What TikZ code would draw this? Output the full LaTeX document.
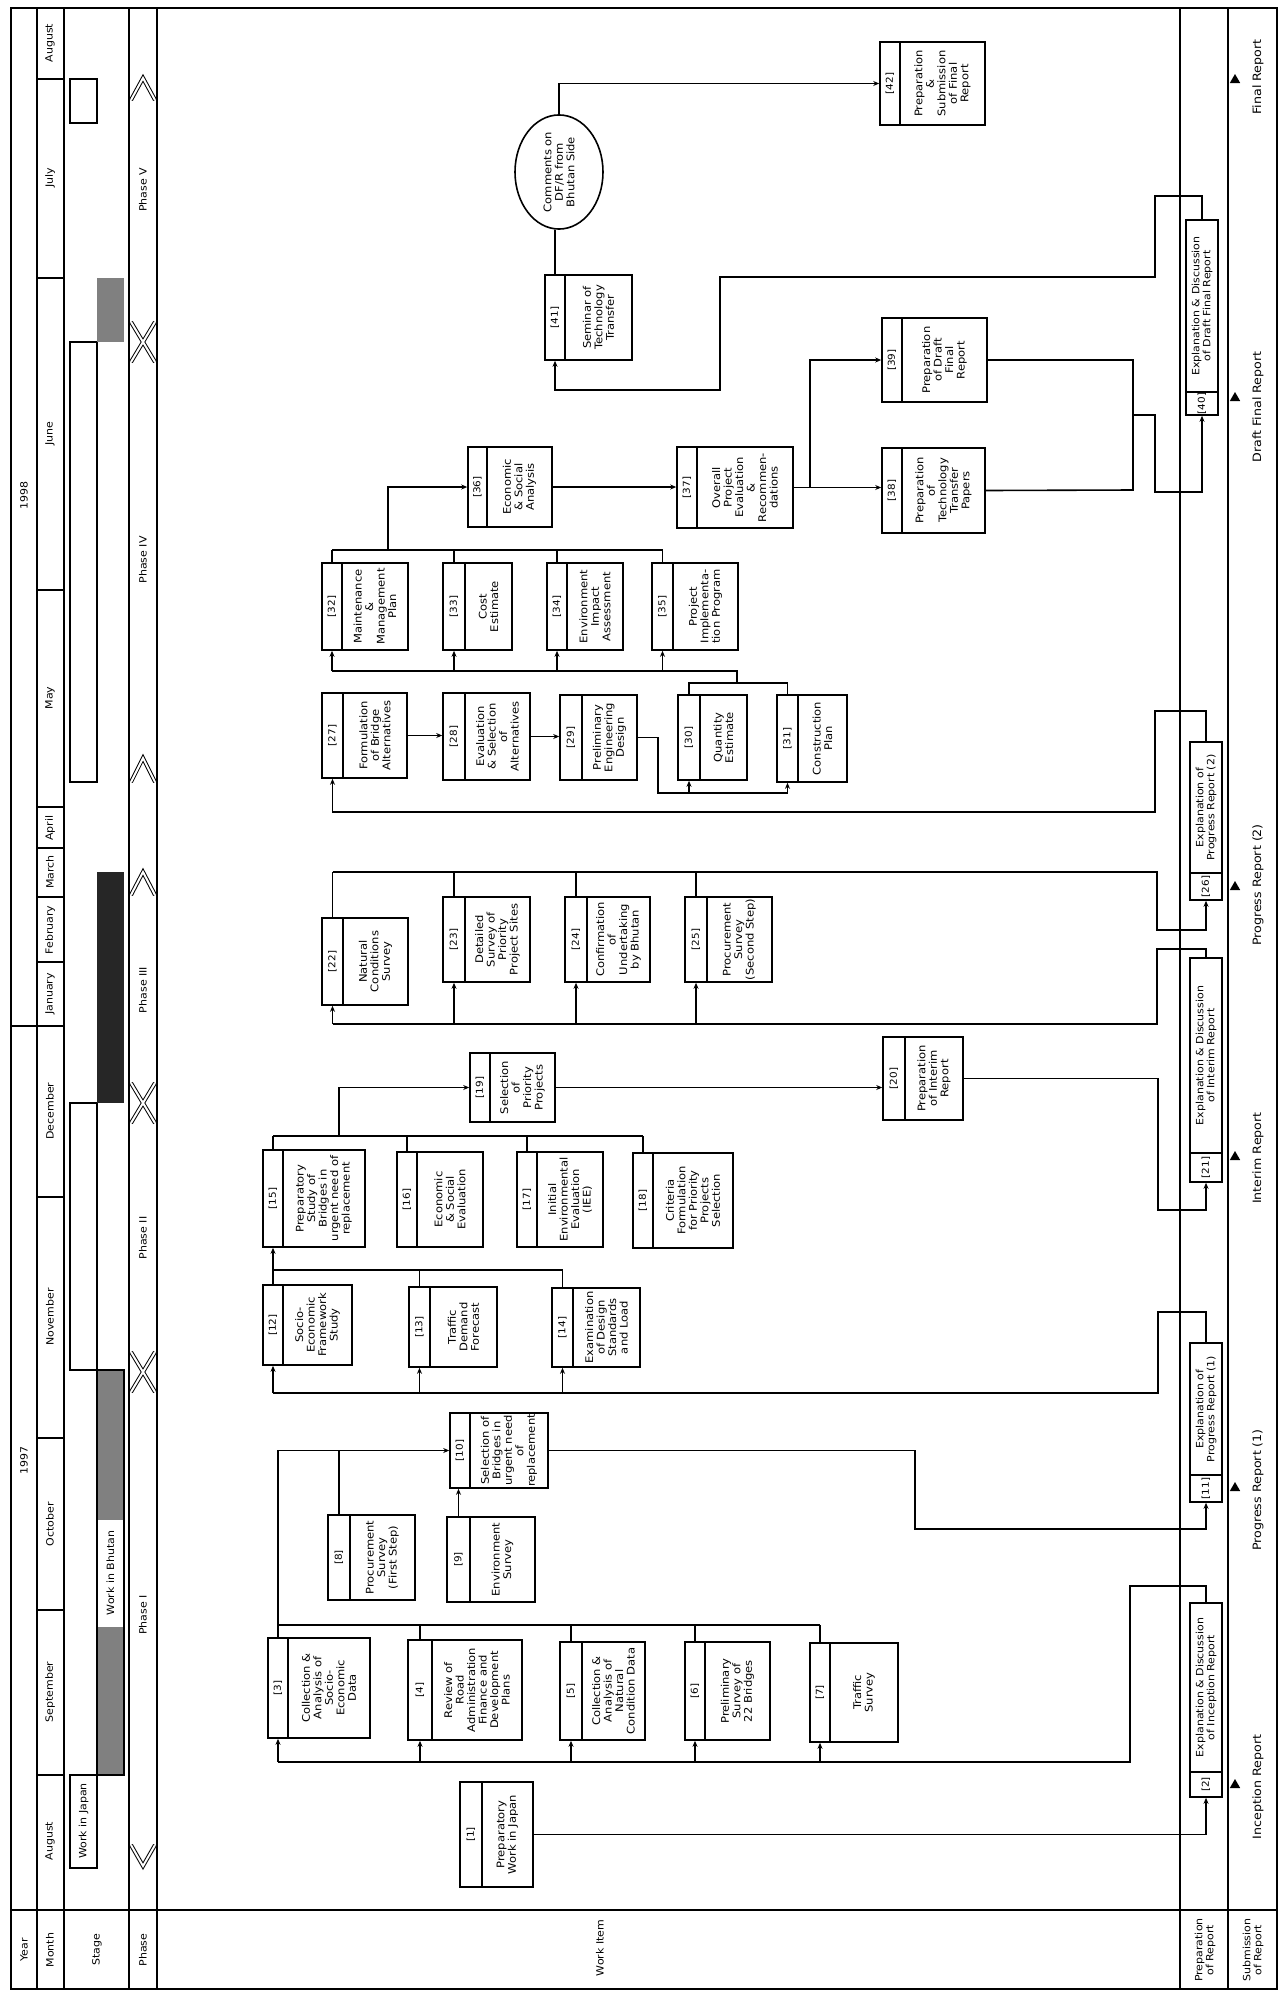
\documentclass[tikz,border=0pt]{standalone}
\usepackage{fontspec}
\setmainfont{DejaVu Sans}[FakeStretch=1.1]
\usetikzlibrary{arrows.meta,positioning,shapes.geometric}
\tikzset{
  numbox/.style    = {draw, line width=1.6pt, rotate=90, inner sep=0pt,
                      font=\fontsize{9.5}{10}\selectfont},
  itembox/.style   = {draw, line width=1.6pt, rotate=90, inner sep=1pt,
                      align=center, font=\fontsize{10.5}{11.5}\selectfont},
  cmell/.style     = {draw, ellipse, line width=1.6pt, rotate=90, inner sep=0pt,
                      align=center, font=\fontsize{10.5}{11.5}\selectfont},
  lbl/.style       = {rotate=90, inner sep=0pt, align=center,
                      font=\fontsize{10}{11}\selectfont},
  replbl/.style    = {rotate=90, inner sep=0pt, font=\fontsize{11.5}{12}\selectfont},
  repmark/.style   = {fill, regular polygon, regular polygon sides=3,
                      minimum size=12pt, inner sep=0pt},
  con/.style       = {line width=1.6pt},
  arr/.style       = {con, -{Stealth[length=6pt,width=5pt]}},
  chev/.style      = {double, double distance=2pt, line width=1pt},
  thickrule/.style = {line width=2.6pt},
  thinrule/.style  = {line width=1.2pt},
  stip/.style      = {fill=black!50},
}

\begin{document}
\begin{tikzpicture}[x=1pt,y=-1pt]
\useasboundingbox (0,0) rectangle (1279,1995);

% frame and columns
\draw[line width=2pt] (11,8) rectangle (1277,1989);
\draw[thinrule] (37,8) -- (37,1989);
\foreach \x in {64,129,157,1180,1228} \draw[thickrule] (\x,8) -- (\x,1989);
\draw[line width=1.5pt] (11,1910) -- (1277,1910);
\draw[thinrule] (11,1026) -- (37,1026);
\foreach \y in {1775,1610,1438,1197,1026,962,897,848,807,590,278,79}
  \draw[thinrule] (37,\y) -- (64,\y);

% heading texts
\node[lbl] (hy) at (24,1950) {Year};
\node[lbl] (hm) at (50,1950) {Month};
\node[lbl] (hs) at (97,1950) {Stage};
\node[lbl] (hp) at (143,1950) {Phase};
\node[lbl] (hw) at (600,1948) {Work Item};
\node[lbl] (hr) at (1205,1950) {Preparation\\of Report};
\node[lbl] (hd) at (1253,1950) {Submission\\of Report};
\node[lbl] (y97) at (24,1460) {1997};
\node[lbl] (y98) at (24,495) {1998};
\foreach \y/\m [count=\i] in {1841/August,1692/September,1524/October,
    1317/November,1111/December,994/January,930/February,872/March,
    828/April,698/May,434/June,178/July,43/August}
  \node[lbl] (mo\i) at (50,\y) {\m};

% stage
\draw[thinrule] (70,1775) rectangle (97,1868);
\node[lbl] (wj) at (83.5,1821) {Work in Japan};
\fill[stip] (97,1627) rectangle (124,1775);
\fill[stip] (97,1370) rectangle (124,1520);
\draw[thinrule] (97,1370) rectangle (124,1775);
\node[lbl] (wb) at (110.5,1573) {Work in Bhutan};
\draw[thinrule] (70,1103) rectangle (97,1370);
\fill[black!85] (97,872) rectangle (124,1103);
\draw[thinrule] (70,342) rectangle (97,782);
\fill[stip] (97,278) rectangle (124,342);
\draw[thinrule] (70,79) rectangle (97,123);

% phases
\foreach \y in {1372,1103,342}
  \draw[chev] (131,\y-20) -- (155,\y+20) (131,\y+20) -- (155,\y-20);
\draw[chev] (131,1845) -- (143,1866) -- (155,1845);
\draw[chev] (131,895) -- (143,872) -- (155,895);
\draw[chev] (131,782) -- (143,758) -- (155,782);
\draw[chev] (131,100) -- (143,78) -- (155,100);
\foreach \y/\p [count=\i] in {1615/I,1238/II,990/III,560/IV,190/V}
  \node[lbl] (ph\i) at (143,\y) {Phase \p};

% work items
\foreach \id/\xl/\xd/\xr/\yt/\yb/\txt in {
  1/460/482/533/1782/1887/{Preparatory\\Work in Japan},
  3/268/288/370/1638/1738/{Collection \&\\Analysis of\\Socio-\\Economic\\Data},
  4/408/432/522/1640/1740/{Review of\\Road\\Administration\\Finance and\\Development\\Plans},
  5/560/582/645/1642/1740/{Collection \&\\Analysis of\\Natural\\Condition Data},
  6/685/705/770/1642/1740/{Preliminary\\Survey of\\22 Bridges},
  7/810/830/898/1643/1742/{Traffic\\Survey},
  8/328/350/415/1515/1600/{Procurement\\Survey\\(First Step)},
  9/447/470/535/1517/1602/{Environment\\Survey},
  10/450/470/548/1413/1488/{Selection of\\Bridges in\\urgent need\\of\\replacement},
  12/263/283/352/1285/1365/{Socio-\\Economic\\Framework\\Study},
  13/409/430/497/1287/1367/{Traffic\\Demand\\Forecast},
  14/552/573/640/1288/1367/{Examination\\of Design\\Standards\\and Load},
  15/263/283/365/1150/1247/{Preparatory\\Study of\\Bridges in\\urgent need of\\replacement},
  16/397/417/483/1152/1247/{Economic\\\& Social\\Evaluation},
  17/517/537/603/1152/1247/{Initial\\Environmental\\Evaluation\\(IEE)},
  18/633/653/733/1153/1248/{Criteria\\Formulation\\for Priority\\Projects\\Selection},
  19/470/490/555/1053/1122/{Selection\\of\\Priority\\Projects},
  20/883/905/963/1037/1120/{Preparation\\of Interim\\Report},
  22/322/343/408/918/1005/{Natural\\Conditions\\Survey},
  23/443/465/530/897/982/{Detailed\\Survey of\\Priority\\Project Sites},
  24/565/587/650/897/982/{Confirmation\\of\\Undertaking\\by Bhutan},
  25/685/707/772/897/982/{Procurement\\Survey\\(Second Step)},
  27/322/343/407/693/778/{Formulation\\of Bridge\\Alternatives},
  28/443/465/530/693/780/{Evaluation\\\& Selection\\of\\Alternatives},
  29/560/582/637/695/780/{Preliminary\\Engineering\\Design},
  30/678/700/747/695/780/{Quantity\\Estimate},
  31/777/798/847/695/782/{Construction\\Plan},
  32/322/342/408/563/650/{Maintenance\\\&\\Management\\Plan},
  33/443/465/512/563/650/{Cost\\Estimate},
  34/547/567/623/563/650/{Environment\\Impact\\Assessment},
  35/652/673/738/563/650/{Project\\Implementa-\\tion Program},
  36/468/487/552/447/527/{Economic\\\& Social\\Analysis},
  37/677/697/793/447/528/{Overall\\Project\\Evaluation\\\&\\Recommen-\\dations},
  38/882/902/985/448/533/{Preparation\\of\\Technology\\Transfer\\Papers},
  39/882/902/987/318/402/{Preparation\\of Draft\\Final\\Report},
  41/545/565/632/275/360/{Seminar of\\Technology\\Transfer},
  42/880/900/985/42/125/{Preparation\\\&\\Submission\\of Final\\Report}}
{
  \pgfmathsetmacro\boxw{\yb-\yt}
  \pgfmathsetmacro\numh{\xd-\xl}
  \pgfmathsetmacro\txth{\xr-\xd}
  \node[numbox, minimum width=\boxw, minimum height=\numh] (n\id)
    at ({(\xl+\xd)/2},{(\yt+\yb)/2}) {[\id]};
  \node[itembox, minimum width=\boxw, minimum height=\txth] (b\id)
    at ({(\xd+\xr)/2},{(\yt+\yb)/2}) {\txt};
}

% report preparation items (number at the lower end)
\foreach \id/\xl/\xr/\yt/\yn/\yb/\txt in {
  2/1190/1222/1603/1772/1797/{Explanation \& Discussion\\of Inception Report},
  11/1190/1222/1343/1475/1502/{Explanation of\\Progress Report (1)},
  21/1190/1222/958/1153/1182/{Explanation \& Discussion\\of Interim Report},
  26/1190/1222/742/873/900/{Explanation of\\Progress Report (2)},
  40/1186/1218/220/392/415/{Explanation \& Discussion\\of Draft Final Report}}
{
  \pgfmathsetmacro\numw{\yb-\yn}
  \pgfmathsetmacro\txtw{\yn-\yt}
  \pgfmathsetmacro\boxh{\xr-\xl}
  \node[numbox, minimum width=\numw, minimum height=\boxh] (n\id)
    at ({(\xl+\xr)/2},{(\yn+\yb)/2}) {[\id]};
  \node[itembox, minimum width=\txtw, minimum height=\boxh,
        font=\fontsize{10}{11}\selectfont] (b\id)
    at ({(\xl+\xr)/2},{(\yt+\yn)/2}) {\txt};
}

\node[cmell, minimum width=103, minimum height=88] (cm) at (559,172)
  {Comments on\\DF/R from\\Bhutan Side};

% submission of reports
\foreach \y/\ty/\t [count=\i] in {1787/1785/Inception Report,
    1490/1488/Progress Report (1),1158/1157/Interim Report,
    885/887/Progress Report (2),407/398/Draft Final Report,77/80/Final Report}
{
  \node[repmark] (m\i) at (1235,\ty) {};
  \node[replbl] (r\i) at (1258,\y) {\t};
}

% bus levels
\coordinate (aLo) at (0,1762);
\coordinate (aHi) at (0,1625);
\coordinate (bLo) at (0,1393);
\coordinate (bHi) at (0,1270);
\coordinate (cHi) at (0,1136);
\coordinate (dLo) at (0,1024);
\coordinate (dHi) at (0,872);
\coordinate (eLo) at (0,793);
\coordinate (eHi) at (0,683);
\coordinate (fLo) at (0,671);
\coordinate (fHi) at (0,550);

% phase I
\draw[arr] (b1.south) -| (n2.west);
\draw[con] (b2.east) -- ++(0,-16) -| (1130,1762) -- (n3.west |- aLo);
\foreach \k in {3,...,7} \draw[arr] (n\k.west |- aLo) -- (n\k.west);
\draw[con] (n3.east |- aHi) -- (n7.east |- aHi);
\foreach \k in {3,...,7} \draw[con] (n\k.east) -- (n\k.east |- aHi);
\draw[arr] (n3.east |- aHi) |- (n10.north);
\draw[con] (n8.east) -- (n8.east |- n10.north);
\draw[arr] (n9.east) -- (n9.east |- n10.west);
\draw[arr] (b10.south) -| (915,1529) -| (n11.west);

% phase II
\draw[con] (b11.east) -- ++(0,-30) -| (1158,1393) -- (n12.west |- bLo);
\foreach \k in {12,13,14} \draw[arr] (n\k.west |- bLo) -- (n\k.west);
\draw[con] (n12.east |- bHi) -- (n14.east |- bHi);
\foreach \k in {13,14} \draw[con] (n\k.east) -- (n\k.east |- bHi);
\draw[arr] (n12.east) -- (n15.west);
\draw[con] (n15.east |- cHi) -- (n18.east |- cHi);
\foreach \k in {15,...,18} \draw[con] (n\k.east) -- (n\k.east |- cHi);
\draw[arr] (339,1136) |- (n19.north);
\draw[arr] (b19.south) -- (b19.south -| n20.north);
\draw[arr] (b20.south) -| (1158,1210) -| (n21.west);

% phase III
\draw[con] (b21.east) -- ++(0,-8) -| (1157,1024) -- (n22.west |- dLo);
\foreach \k in {22,...,25} \draw[arr] (n\k.west |- dLo) -- (n\k.west);
\draw[arr] (n22.east |- dHi) -- (1157,872) -- (1157,930) -| (n26.west);
\foreach \k in {22,...,25} \draw[con] (n\k.east) -- (n\k.east |- dHi);

% phase IV
\draw[arr] (b26.east) -- ++(0,-30) -| (1155,812) -| (n27.west);
\draw[arr] (b27.south) -- (b27.south -| n28.north);
\draw[arr] (b28.south) -- (b28.south -| n29.north);
\draw[con] (b29.south) -| (658,793) -- (n31.west |- eLo);
\foreach \k in {30,31} \draw[arr] (n\k.west |- eLo) -- (n\k.west);
\draw[con] (n30.east) -- (n30.east |- eHi) -- (n31.east |- eHi) -- (n31.east);
\draw[con] (737,683) |- (n32.west |- fLo);
\foreach \k in {32,...,35} \draw[arr] (n\k.west |- fLo) -- (n\k.west);
\draw[con] (n32.east |- fHi) -- (n35.east |- fHi);
\foreach \k in {32,...,35} \draw[con] (n\k.east) -- (n\k.east |- fHi);
\draw[arr] (388,550) |- (n36.north);
\draw[arr] (b36.south) -- (b36.south -| n37.north);
\draw[arr] (b37.south) -- (b37.south -| n38.north);
\draw[arr] (810,487.5) |- (n39.north);
\draw[con] (b39.south) -| (1133,490) -- (b38.south);
\draw[arr] (1133,415) -| (1155,492) -| (n40.west);

% phase V
\draw[arr] (b40.east) -- ++(0,-23) -| (1155,277) -| (720,390) -| (n41.west);
\draw[con] (n41.east) -- (n41.east |- cm.west);
\draw[arr] (cm.east) |- (n42.north);
\end{tikzpicture}
\end{document}
